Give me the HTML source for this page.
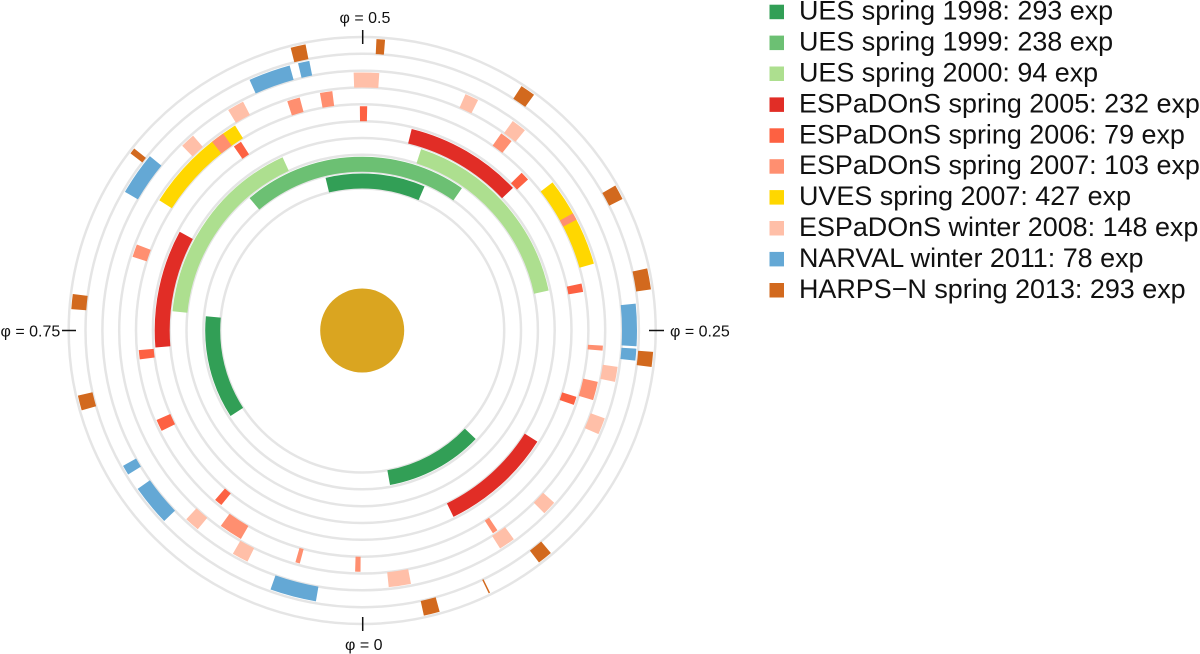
<!DOCTYPE html>
<html><head><meta charset="utf-8"><style>
html,body{margin:0;padding:0;background:#fff;width:1200px;height:654px;overflow:hidden}
svg{display:block;overflow:hidden}
text{font-family:"Liberation Sans",sans-serif;fill:#111}
.p{font-size:16px}
.l{font-size:26.92px}
.b circle{fill:none;stroke-width:15}
</style></head><body>
<svg width="1200" height="654" viewBox="0 0 1200 654" xmlns="http://www.w3.org/2000/svg">
<g transform="translate(362.2,330.5)">
<g fill="none" stroke="#e5e5e5" stroke-width="2.5">
<circle r="142"/><circle r="158.8"/><circle r="175.7"/><circle r="192.5"/><circle r="209.3"/><circle r="226.2"/><circle r="243"/><circle r="259.8"/><circle r="276.7"/><circle r="293.5"/>
</g>
<circle r="42" fill="#daa520"/>
<g class="b" stroke="#329f56">
<circle r="149.5" pathLength="360" stroke-dasharray="36.9 360" transform="rotate(256.5)"/>
<circle r="149.5" pathLength="360" stroke-dasharray="38.2 360" transform="rotate(147)"/>
<circle r="149.5" pathLength="360" stroke-dasharray="36.1 360" transform="rotate(43.7)"/>
</g>
<g class="b" stroke="#6cc073">
<circle r="166.3" pathLength="360" stroke-dasharray="75.4 360" transform="rotate(229.6)"/>
</g>
<g class="b" stroke="#addf8f">
<circle r="183.2" pathLength="360" stroke-dasharray="59.5 360" transform="rotate(185.8)"/>
<circle r="183.2" pathLength="360" stroke-dasharray="59.9 360" transform="rotate(288)"/>
</g>
<g class="b" stroke="#e12d26">
<circle r="200" pathLength="360" stroke-dasharray="33.1 360" transform="rotate(175.3)"/>
<circle r="200" pathLength="360" stroke-dasharray="32.8 360" transform="rotate(283.8)"/>
<circle r="200" pathLength="360" stroke-dasharray="31.5 360" transform="rotate(32.4)"/>
</g>
<g class="b" stroke="#fd6142">
<circle r="216.8" pathLength="360" stroke-dasharray="1.9 360" transform="rotate(269.4)"/>
<circle r="216.8" pathLength="360" stroke-dasharray="2.2 360" transform="rotate(235.1)"/>
<circle r="216.8" pathLength="360" stroke-dasharray="2.4 360" transform="rotate(315.3)"/>
<circle r="216.8" pathLength="360" stroke-dasharray="2.2 360" transform="rotate(347.9)"/>
<circle r="216.8" pathLength="360" stroke-dasharray="2.4 360" transform="rotate(172.6)"/>
<circle r="216.8" pathLength="360" stroke-dasharray="3.1 360" transform="rotate(153.4)"/>
<circle r="216.8" pathLength="360" stroke-dasharray="2.1 360" transform="rotate(128.9)"/>
<circle r="216.8" pathLength="360" stroke-dasharray="2.2 360" transform="rotate(17.2)"/>
</g>
<g class="b" stroke="#ffd700">
<circle r="233.7" pathLength="360" stroke-dasharray="25.5 360" transform="rotate(212.7)"/>
<circle r="233.7" pathLength="360" stroke-dasharray="21.8 360" transform="rotate(322.1)"/>
</g>
<g class="b" stroke="#ff8f70">
<circle r="233.7" pathLength="360" stroke-dasharray="3.1 360" transform="rotate(251.9)"/>
<circle r="233.7" pathLength="360" stroke-dasharray="3 360" transform="rotate(259.9)"/>
<circle r="233.7" pathLength="360" stroke-dasharray="3.3 360" transform="rotate(231.5)"/>
<circle r="233.7" pathLength="360" stroke-dasharray="3.1 360" transform="rotate(197.8)"/>
<circle r="233.7" pathLength="360" stroke-dasharray="3.1 360" transform="rotate(305.2)"/>
<circle r="233.7" pathLength="360" stroke-dasharray="1.8 360" transform="rotate(330.9)"/>
<circle r="233.7" pathLength="360" stroke-dasharray="5.7 360" transform="rotate(120.2)"/>
<circle r="233.7" pathLength="360" stroke-dasharray="1.1 360" transform="rotate(105)"/>
<circle r="233.7" pathLength="360" stroke-dasharray="1.3 360" transform="rotate(90.4)"/>
<circle r="233.7" pathLength="360" stroke-dasharray="1.2 360" transform="rotate(3.6)"/>
<circle r="233.7" pathLength="360" stroke-dasharray="4.5 360" transform="rotate(12.3)"/>
<circle r="233.7" pathLength="360" stroke-dasharray="1.3 360" transform="rotate(55.9)"/>
</g>
<g class="b" stroke="#ffbfa8">
<circle r="250.5" pathLength="360" stroke-dasharray="5.7 360" transform="rotate(268.1)"/>
<circle r="250.5" pathLength="360" stroke-dasharray="3.8 360" transform="rotate(238.7)"/>
<circle r="250.5" pathLength="360" stroke-dasharray="3.3 360" transform="rotate(225.75)"/>
<circle r="250.5" pathLength="360" stroke-dasharray="3.1 360" transform="rotate(293.6)"/>
<circle r="250.5" pathLength="360" stroke-dasharray="3.4 360" transform="rotate(305.7)"/>
<circle r="250.5" pathLength="360" stroke-dasharray="3.4 360" transform="rotate(129.6)"/>
<circle r="250.5" pathLength="360" stroke-dasharray="3.7 360" transform="rotate(116.4)"/>
<circle r="250.5" pathLength="360" stroke-dasharray="5 360" transform="rotate(79.1)"/>
<circle r="250.5" pathLength="360" stroke-dasharray="3.7 360" transform="rotate(54)"/>
<circle r="250.5" pathLength="360" stroke-dasharray="3.2 360" transform="rotate(41.9)"/>
<circle r="250.5" pathLength="360" stroke-dasharray="3.8 360" transform="rotate(19.9)"/>
<circle r="250.5" pathLength="360" stroke-dasharray="3.4 360" transform="rotate(8.1)"/>
</g>
<g class="b" stroke="#64a8d5">
<circle r="267.3" pathLength="360" stroke-dasharray="8.9 360" transform="rotate(245.8)"/>
<circle r="267.3" pathLength="360" stroke-dasharray="2.4 360" transform="rotate(256.5)"/>
<circle r="267.3" pathLength="360" stroke-dasharray="9.1 360" transform="rotate(210.3)"/>
<circle r="267.3" pathLength="360" stroke-dasharray="8.9 360" transform="rotate(354.4)"/>
<circle r="267.3" pathLength="360" stroke-dasharray="2.5 360" transform="rotate(3.8)"/>
<circle r="267.3" pathLength="360" stroke-dasharray="2.1 360" transform="rotate(148.4)"/>
<circle r="267.3" pathLength="360" stroke-dasharray="8.7 360" transform="rotate(136.1)"/>
<circle r="267.3" pathLength="360" stroke-dasharray="9.8 360" transform="rotate(99.7)"/>
</g>
<g class="b" stroke="#d2691e">
<circle r="284.2" pathLength="360" stroke-dasharray="3 360" transform="rotate(255.8)"/>
<circle r="284.2" pathLength="360" stroke-dasharray="1.2 360" transform="rotate(217.4)"/>
<circle r="284.2" pathLength="360" stroke-dasharray="3 360" transform="rotate(184.2)"/>
<circle r="284.2" pathLength="360" stroke-dasharray="1.7 360" transform="rotate(272.8)"/>
<circle r="284.2" pathLength="360" stroke-dasharray="3 360" transform="rotate(303.1)"/>
<circle r="284.2" pathLength="360" stroke-dasharray="3 360" transform="rotate(330.2)"/>
<circle r="284.2" pathLength="360" stroke-dasharray="4.2 360" transform="rotate(347.7)"/>
<circle r="284.2" pathLength="360" stroke-dasharray="3 360" transform="rotate(164.1)"/>
<circle r="284.2" pathLength="360" stroke-dasharray="3 360" transform="rotate(4.2)"/>
<circle r="284.2" pathLength="360" stroke-dasharray="3 360" transform="rotate(49.7)"/>
<circle r="284.2" pathLength="360" stroke-dasharray="0.3 360" transform="rotate(64)"/>
<circle r="284.2" pathLength="360" stroke-dasharray="3.2 360" transform="rotate(74.6)"/>
</g>
</g>
<g stroke="#111" stroke-width="1.5">
<line x1="362.7" y1="30" x2="362.7" y2="44"/>
<line x1="362.7" y1="617" x2="362.7" y2="631"/>
<line x1="62" y1="330.5" x2="76" y2="330.5"/>
<line x1="649" y1="330.5" x2="664" y2="330.5"/>
</g>
<text class="p" x="339.5" y="23">φ = 0.5</text>
<text class="p" x="345" y="650">φ = 0</text>
<text class="p" x="670" y="336.5">φ = 0.25</text>
<text class="p" x="0.5" y="336.5">φ = 0.75</text>
<g>
<rect x="769.5" y="4.7" width="14.5" height="14.5" fill="#329f56"/>
<rect x="769.5" y="35.6" width="14.5" height="14.5" fill="#6cc073"/>
<rect x="769.5" y="66.5" width="14.5" height="14.5" fill="#addf8f"/>
<rect x="769.5" y="97.4" width="14.5" height="14.5" fill="#e12d26"/>
<rect x="769.5" y="128.3" width="14.5" height="14.5" fill="#fd6142"/>
<rect x="769.5" y="159.2" width="14.5" height="14.5" fill="#ff8f70"/>
<rect x="769.5" y="190.1" width="14.5" height="14.5" fill="#ffd700"/>
<rect x="769.5" y="221" width="14.5" height="14.5" fill="#ffbfa8"/>
<rect x="769.5" y="251.9" width="14.5" height="14.5" fill="#64a8d5"/>
<rect x="769.5" y="283" width="14.5" height="14.5" fill="#d2691e"/>
</g>
<text class="l" x="799" y="19.7">UES spring 1998: 293 exp</text>
<text class="l" x="799" y="50.6">UES spring 1999: 238 exp</text>
<text class="l" x="799" y="81.5">UES spring 2000: 94 exp</text>
<text class="l" x="799" y="112.4">ESPaDOnS spring 2005: 232 exp</text>
<text class="l" x="799" y="143.3">ESPaDOnS spring 2006: 79 exp</text>
<text class="l" x="799" y="174.2">ESPaDOnS spring 2007: 103 exp</text>
<text class="l" x="799" y="205.1">UVES spring 2007: 427 exp</text>
<text class="l" x="799" y="236">ESPaDOnS winter 2008: 148 exp</text>
<text class="l" x="799" y="266.9">NARVAL winter 2011: 78 exp</text>
<text class="l" x="799" y="297.8">HARPS−N spring 2013: 293 exp</text>
</svg>
</body></html>
